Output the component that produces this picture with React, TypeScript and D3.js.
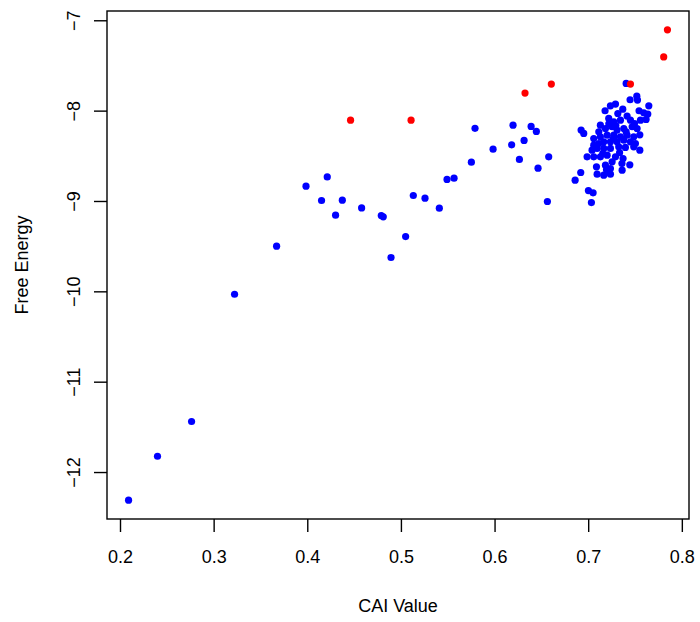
import React from 'react';
import * as d3 from 'd3';

// CAI value vs free energy
const blueX = [
    0.2086, 0.2395, 0.2759, 0.3218, 0.3667,
    0.3981, 0.4208, 0.4147, 0.4369, 0.4297, 0.4575, 0.4785, 0.4806, 0.4889, 0.5045,
    0.5127, 0.5252, 0.5405, 0.5487, 0.5562, 0.5747, 0.5786, 0.5979, 0.6177, 0.6192,
    0.626, 0.631, 0.6385, 0.6441, 0.6459, 0.6559, 0.6573,
    0.740, 0.7442, 0.7514, 0.7521, 0.7642, 0.7175, 0.7232, 0.7286, 0.7364, 0.7311,
    0.7410, 0.7538, 0.7588, 0.7631, 0.7613, 0.6919, 0.6947, 0.7125, 0.7214, 0.7268,
    0.7339, 0.7446, 0.7489, 0.7553, 0.7108, 0.7179, 0.7250, 0.7303, 0.7375, 0.7464,
    0.7517, 0.7054, 0.7125, 0.7197, 0.7268, 0.7339, 0.7410, 0.7481, 0.7546, 0.7054,
    0.7108, 0.7161, 0.7232, 0.7303, 0.7375, 0.7446, 0.7499, 0.7036, 0.7090, 0.7161,
    0.7232, 0.7321, 0.7392, 0.7481, 0.7546, 0.6983, 0.7054, 0.7125, 0.7197, 0.7286,
    0.7367, 0.7083, 0.7179, 0.7250, 0.7232, 0.7357, 0.7439, 0.7090, 0.7161, 0.7232,
    0.6915, 0.6855, 0.6997, 0.7047, 0.7029,
    0.7215, 0.7290, 0.7150, 0.7330, 0.7400, 0.7265, 0.7190, 0.7355,
];
const blueY = [
    -12.306, -11.82, -11.435, -10.027, -9.495,
    -8.831, -8.728, -8.989, -8.986, -9.152, -9.071, -9.155, -9.17, -9.62, -9.388,
    -8.934, -8.963, -9.074, -8.756, -8.742, -8.565, -8.19, -8.421, -8.373, -8.155,
    -8.535, -8.324, -8.169, -8.225, -8.631, -9.0, -8.506,
    -7.693, -7.874, -7.834, -7.878, -7.941, -7.996, -7.941, -7.922, -7.978, -8.026,
    -8.055, -7.996, -8.018, -8.033, -8.092, -8.21, -8.247, -8.155, -8.081, -8.118,
    -8.1, -8.1, -8.137, -8.1, -8.229, -8.192, -8.173, -8.21, -8.192, -8.173,
    -8.192, -8.303, -8.284, -8.266, -8.266, -8.284, -8.266, -8.284, -8.262, -8.377,
    -8.358, -8.34, -8.34, -8.34, -8.321, -8.34, -8.358, -8.432, -8.413, -8.413,
    -8.413, -8.395, -8.402, -8.395, -8.432, -8.506, -8.506, -8.506, -8.487, -8.506,
    -8.524, -8.616, -8.598, -8.561, -8.635, -8.653, -8.594, -8.698, -8.709, -8.698,
    -8.679, -8.764, -8.879, -8.904, -9.012,
    -8.140, -8.160, -8.470, -8.460, -8.230, -8.300, -8.650, -8.580,
];
const redX = [0.4457, 0.5103, 0.632, 0.6601, 0.7446, 0.7801, 0.7841];
const redY = [-8.1, -8.1, -7.8, -7.7, -7.7, -7.4, -7.1];

const xTicks = [0.2, 0.3, 0.4, 0.5, 0.6, 0.7, 0.8];
const yTicks = [-12, -11, -10, -9, -8, -7];

const W = 700;
const H = 622;
const box = { left: 107, right: 689, top: 11, bottom: 519 };
const font = "'Liberation Sans', Arial, Helvetica, sans-serif";

// R-style 4% padding around the data range
const pad = (ext: [number, number]) => {
    const d = (ext[1] - ext[0]) * 0.04;
    return [ext[0] - d, ext[1] + d];
};

export default function App() {
    const allX = [...blueX, ...redX];
    const allY = [...blueY, ...redY];
    const x = d3.scaleLinear()
        .domain(pad(d3.extent(allX) as [number, number]))
        .range([box.left, box.right]);
    const y = d3.scaleLinear()
        .domain(pad(d3.extent(allY) as [number, number]))
        .range([box.bottom, box.top]);
    const fmt = d3.format('');
    const tickLen = 13;

    return (
        <svg width={W} height={H} style={{ position: 'absolute', left: 0, top: 0, background: '#fff' }}
            fontFamily={font}>
            {/* points */}
            {blueX.map((v, i) => (
                <circle key={'b' + i} cx={x(v)} cy={y(blueY[i])} r={3.6} fill="#0000FF" />
            ))}
            {redX.map((v, i) => (
                <circle key={'r' + i} cx={x(v)} cy={y(redY[i])} r={3.6} fill="#FF0000" />
            ))}

            {/* box */}
            <rect x={box.left} y={box.top} width={box.right - box.left} height={box.bottom - box.top}
                fill="none" stroke="#000" strokeWidth={1.4} />

            {/* x axis */}
            {xTicks.map(t => (
                <g key={'x' + t}>
                    <line x1={x(t)} x2={x(t)} y1={box.bottom} y2={box.bottom + tickLen} stroke="#000" strokeWidth={1.4} />
                    <text x={x(t)} y={563} textAnchor="middle" fontSize={18}>{fmt(t)}</text>
                </g>
            ))}
            {/* y axis */}
            {yTicks.map(t => (
                <g key={'y' + t}>
                    <line x1={box.left - tickLen} x2={box.left} y1={y(t)} y2={y(t)} stroke="#000" strokeWidth={1.4} />
                    <text transform={`translate(80,${y(t)}) rotate(-90)`} textAnchor="middle" fontSize={18}>{fmt(t)}</text>
                </g>
            ))}

            {/* titles */}
            <text x={(box.left + box.right) / 2} y={612} textAnchor="middle" fontSize={18}>CAI Value</text>
            <text transform={`translate(28,${(box.top + box.bottom) / 2}) rotate(-90)`} textAnchor="middle" fontSize={18}>Free Energy</text>
        </svg>
    );
}
